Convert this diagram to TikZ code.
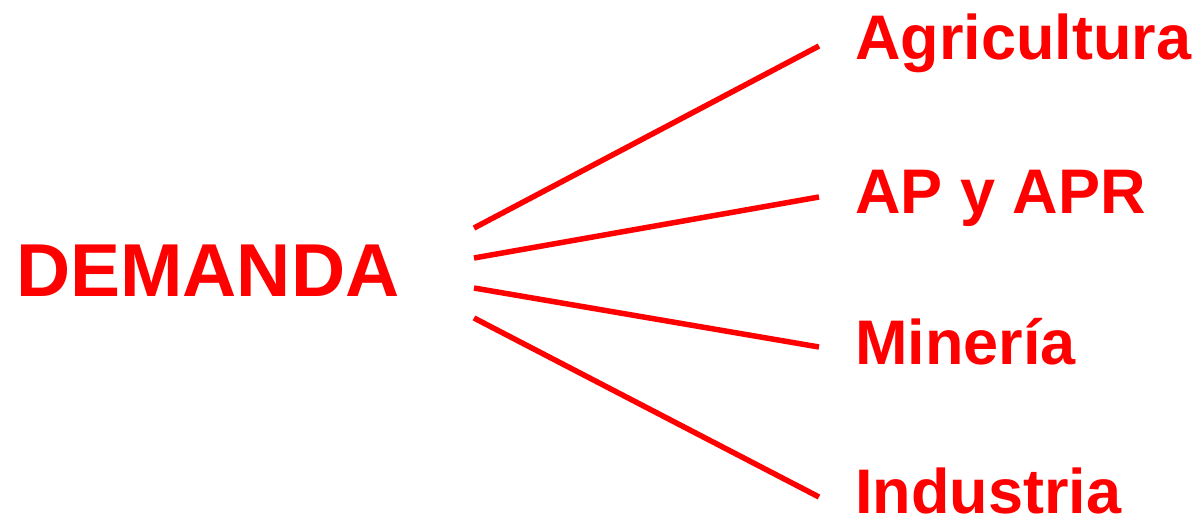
\documentclass[tikz,border=0pt]{standalone}
\usepackage{fontspec}
\setmainfont{Liberation Sans}
\definecolor{dred}{RGB}{255,0,0}
\begin{document}
\begin{tikzpicture}[x=1pt,y=-1pt,
  lbl/.style={anchor=base west,inner sep=0pt,text=dred,font=\bfseries\fontsize{63}{63}\selectfont},
  big/.style={anchor=base west,inner sep=0pt,text=dred,font=\bfseries\fontsize{75}{75}\selectfont},
  link/.style={draw=dred,line width=5.5pt}]
\useasboundingbox (0,0) rectangle (1203,527);
\node[big] (dem) at (16,296) {DEMANDA};
\node[lbl] (agr) at (855,60) {Agricultura};
\node[lbl] (ap) at (855,213) {AP y APR};
\node[lbl] (min) at (855,364) {Minería};
\node[lbl] (ind) at (855,513) {Industria};
\coordinate (s1) at (474,228); \coordinate (e1) at (819,46);
\coordinate (s2) at (474,258); \coordinate (e2) at (819,197);
\coordinate (s3) at (474,288); \coordinate (e3) at (819,347);
\coordinate (s4) at (474,318); \coordinate (e4) at (819,497);
\draw[link] (s1) -- (e1);
\draw[link] (s2) -- (e2);
\draw[link] (s3) -- (e3);
\draw[link] (s4) -- (e4);
\end{tikzpicture}
\end{document}
